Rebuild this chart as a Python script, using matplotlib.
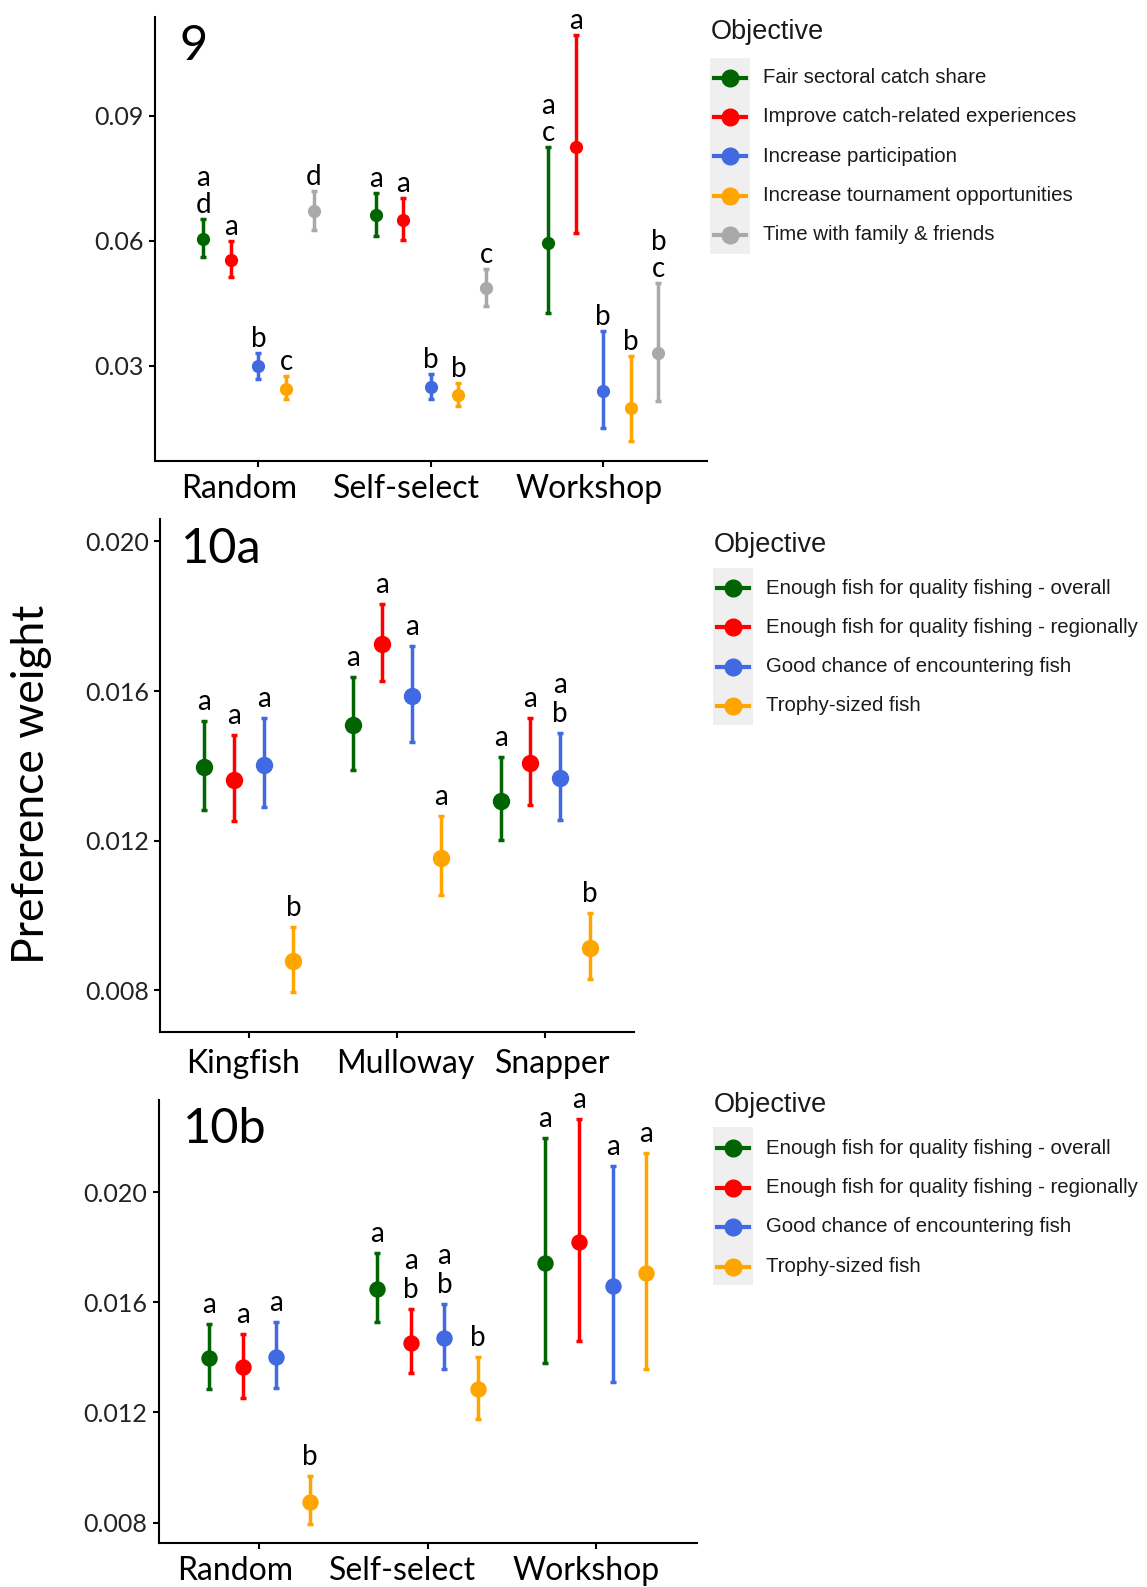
import numpy as np
import matplotlib
matplotlib.use("Agg")
import matplotlib.pyplot as plt
from matplotlib.lines import Line2D
from matplotlib.patches import Rectangle

# ---------------------------------------------------------------- data
groups9 = ["Random", "Self-select", "Workshop"]
objectives9 = ["Fair sectoral catch share", "Improve catch-related experiences",
               "Increase participation", "Increase tournament opportunities",
               "Time with family & friends"]
colors9 = ["#006400", "#FF0000", "#4169E1", "#FFA500", "#A9A9A9"]
# rows = objective, columns = group
mean9 = [[0.0604, 0.0661, 0.0594],
         [0.0554, 0.0650, 0.0825],
         [0.0298, 0.0249, 0.0239],
         [0.0245, 0.0229, 0.0198],
         [0.0671, 0.0486, 0.0330]]
lo9 = [[0.0560, 0.0611, 0.0426],
       [0.0512, 0.0602, 0.0618],
       [0.0268, 0.0221, 0.0150],
       [0.0219, 0.0204, 0.0119],
       [0.0626, 0.0444, 0.0216]]
hi9 = [[0.0652, 0.0715, 0.0826],
       [0.0599, 0.0703, 0.1094],
       [0.0330, 0.0279, 0.0382],
       [0.0274, 0.0259, 0.0323],
       [0.0719, 0.0531, 0.0499]]
letters9 = [["a\nd", "a", "a\nc"],
            ["a", "a", "a"],
            ["b", "b", "b"],
            ["c", "b", "b"],
            ["d", "c", "b\nc"]]

objectives10 = ["Enough fish for quality fishing - overall",
                "Enough fish for quality fishing - regionally",
                "Good chance of encountering fish", "Trophy-sized fish"]
colors10 = ["#006400", "#FF0000", "#4169E1", "#FFA500"]

groups10a = ["Kingfish", "Mulloway", "Snapper"]
mean10a = [[0.01397, 0.01509, 0.01307],
           [0.01362, 0.01727, 0.01407],
           [0.01403, 0.01587, 0.01367],
           [0.00878, 0.01155, 0.00914]]
lo10a = [[0.01283, 0.01390, 0.01203],
         [0.01252, 0.01627, 0.01295],
         [0.01289, 0.01465, 0.01256],
         [0.00795, 0.01054, 0.00831]]
hi10a = [[0.01521, 0.01639, 0.01424],
         [0.01483, 0.01833, 0.01529],
         [0.01529, 0.01721, 0.01487],
         [0.00970, 0.01267, 0.01007]]
letters10a = [["a", "a", "a"],
              ["a", "a", "a"],
              ["a", "a", "a\nb"],
              ["b", "a", "b"]]

groups10b = ["Random", "Self-select", "Workshop"]
mean10b = [[0.01399, 0.01648, 0.01742],
           [0.01364, 0.01453, 0.01818],
           [0.01403, 0.01469, 0.01659],
           [0.00876, 0.01284, 0.01705]]
lo10b = [[0.01284, 0.01530, 0.01381],
         [0.01254, 0.01342, 0.01461],
         [0.01290, 0.01358, 0.01312],
         [0.00795, 0.01176, 0.01358]]
hi10b = [[0.01521, 0.01780, 0.02195],
         [0.01484, 0.01575, 0.02264],
         [0.01528, 0.01593, 0.02095],
         [0.00970, 0.01400, 0.02141]]
letters10b = [["a", "a", "a"],
              ["a", "a\nb", "a"],
              ["a", "a\nb", "a"],
              ["b", "b", "a"]]

# ---------------------------------------------------------------- style
W, H = 1147, 1587
AXFONT = "Lato"
LEGFONT = "Liberation Sans"
PX = 72 / 100  # points per pixel at dpi 100

fig = plt.figure(figsize=(W / 100, H / 100), dpi=100)


def px_rect(left, top, right, bottom):
    return [left / W, 1 - bottom / H, (right - left) / W, (bottom - top) / H]


def panel(rect, groups, means, los, his, letters, colors, ylim, yticks,
          ytick_fmt, label, msize, gap, linegap, lab_shift, lab_drop):
    ax = fig.add_axes(rect)
    n = len(means)
    xs = np.arange(1, len(groups) + 1)
    for i in range(n):
        off = (i - (n - 1) / 2) * 0.8 / n
        m = np.array(means[i])
        err = [m - np.array(los[i]), np.array(his[i]) - m]
        ax.errorbar(xs + off, m, yerr=err, fmt="o", color=colors[i],
                    markersize=msize, elinewidth=2.5, capsize=2.5,
                    capthick=2.5, zorder=3)
        for j in range(len(groups)):
            lines = letters[i][j].split("\n")[::-1]
            for k, s in enumerate(lines):
                ax.annotate(s, (xs[j] + off, his[i][j]),
                            xytext=(0, (gap + k * linegap) * PX),
                            textcoords="offset points", ha="center",
                            va="baseline", fontsize=20, family=AXFONT,
                            color="black")
    ax.set_xlim(0.4, 3.6)
    ax.set_ylim(*ylim)
    ax.set_xticks(xs)
    ax.set_xticklabels([])
    # group names sit a little off their ticks in the original
    for x, g, dx in zip(xs, groups, lab_shift):
        ax.annotate(g, (x, 0), xycoords=("data", "axes fraction"),
                    xytext=(dx * PX, -lab_drop * PX),
                    textcoords="offset points", ha="center", va="top",
                    fontsize=23, family=AXFONT, color="black")
    ax.set_yticks(yticks)
    ax.set_yticklabels([ytick_fmt.format(v) for v in yticks], fontsize=18,
                       family=AXFONT, color="#222222")
    for sp in ["top", "right"]:
        ax.spines[sp].set_visible(False)
    for sp in ["left", "bottom"]:
        ax.spines[sp].set_linewidth(1.5)
    ax.tick_params(axis="x", length=4, width=1.5)
    ax.tick_params(axis="y", length=4, width=1.5, pad=4)
    ax.text(0.045, 0.985, label, transform=ax.transAxes, fontsize=35,
            family=AXFONT, va="top", ha="left")
    return ax


def legend(x_key, x_text, y_title, y_entries, labels, colors, rect_top,
           rect_bottom):
    fig.text((x_key - 19) / W, 1 - y_title / H, "Objective",
             fontsize=19.5, family=LEGFONT, va="center", ha="left",
             color="#1a1a1a")
    fig.add_artist(Rectangle(((x_key - 20) / W, 1 - rect_bottom / H),
                             40 / W, (rect_bottom - rect_top) / H,
                             transform=fig.transFigure,
                             facecolor="#EFEFEF", edgecolor="none"))
    for y, lab, c in zip(y_entries, labels, colors):
        yf = 1 - y / H
        fig.add_artist(Line2D([(x_key - 16) / W, (x_key + 16) / W], [yf, yf],
                              transform=fig.transFigure, color=c, lw=3))
        fig.add_artist(Line2D([x_key / W], [yf], transform=fig.transFigure,
                              color=c, marker="o", markersize=12, lw=0))
        fig.text(x_text / W, yf, lab, fontsize=14.7, family=LEGFONT,
                 va="center", ha="left", color="#1a1a1a")


panel(px_rect(155, 17, 706.7, 461), groups9, mean9, lo9, hi9, letters9,
      colors9, (0.0071, 0.1137), [0.03, 0.06, 0.09],
      "{:.2f}", "9", 8.5, 6, 27, [-19, -24, -14], 13)
legend(730, 763, 32, [77.7, 116.7, 156, 195.7, 235], objectives9, colors9,
       58, 254)

panel(px_rect(160, 519, 634, 1032), groups10a, mean10a, lo10a, hi10a,
      letters10a, colors10, (0.00689, 0.0206),
      [0.008, 0.012, 0.016, 0.020], "{:.3f}", "10a", 11.5, 11, 29,
      [-6, 8, 8], 17)
legend(733, 766, 545, [588.3, 627.3, 666.7, 705.7], objectives10, colors10,
       568, 725)

panel(px_rect(158.6, 1100, 696.7, 1543.3), groups10b, mean10b, lo10b, hi10b,
      letters10b, colors10, (0.00725, 0.02334),
      [0.008, 0.012, 0.016, 0.020], "{:.3f}", "10b", 10.8, 11, 29,
      [-24, -25, -10], 13)
legend(733, 766, 1105.5, [1148, 1187.5, 1227, 1266.5], objectives10, colors10,
       1127, 1285)

fig.text(32 / W, 1 - 784 / H, "Preference weight", rotation=90, fontsize=32,
         family=AXFONT, va="center", ha="center")

fig.savefig("out.png", dpi=100, facecolor="white")
